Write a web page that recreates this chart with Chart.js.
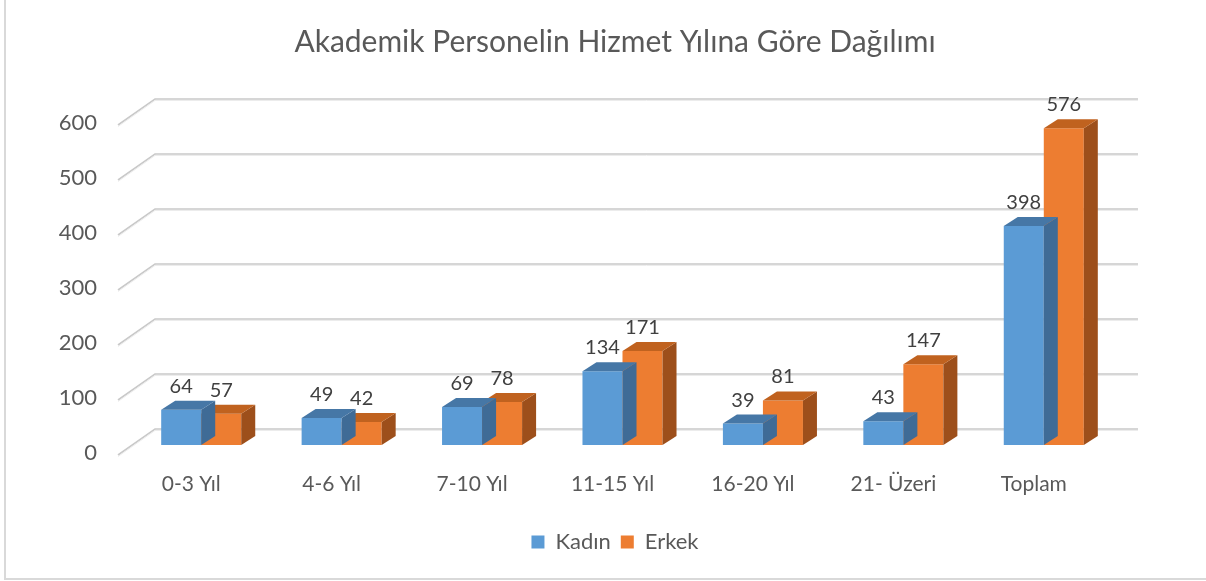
<!DOCTYPE html>
<html>
<head>
<meta charset="utf-8">
<script src="https://cdn.jsdelivr.net/npm/chart.js@4"></script>
<style>
  body { margin: 0; background: #fff; overflow: hidden; }
  #cerceve { position: absolute; left: 4px; top: -4px; width: 1300px; height: 582px;
             border-left: 2px solid #d9d9d9; border-bottom: 2px solid #d9d9d9; }
  #kutu { position: absolute; left: 0; top: 0; width: 1206px; height: 581px; }
</style>
</head>
<body>
<div id="cerceve"></div>
<div id="kutu"><canvas id="grafik"></canvas></div>
<script>
// Veriler
const kategoriler = ['0-3 Yıl', '4-6 Yıl', '7-10 Yıl', '11-15 Yıl', '16-20 Yıl', '21- Üzeri', 'Toplam'];
const kadin = [64, 49, 69, 134, 39, 43, 398];
const erkek = [57, 42, 78, 171, 81, 147, 576];
const eksenDegerleri = [0, 100, 200, 300, 400, 500, 600];

const yaziTipi = 'Lato, "Open Sans", sans-serif';

// 3B görünüm için renkler
const renkler = {
    0: { on: '#5b9bd5', ust: '#4677a6', yan: '#3f6b96' },
    1: { on: '#ed7d31', ust: '#c0621f', yan: '#9d4f1b' }
};
const derinlik = { dx: 14, dy: -9 };
const duvar = { arkaX: 24, arkaY: -16, onX: -13, onY: 10 };

// Arka duvar ve kılavuz çizgileri
const duvarEklentisi = {
    id: 'duvar',
    beforeDatasetsDraw(chart) {
        const ctx = chart.ctx;
        const alan = chart.chartArea;
        const y = chart.scales.y;
        ctx.save();
        eksenDegerleri.forEach(function(v) {
            const py = y.getPixelForValue(v);
            ctx.beginPath();
            ctx.moveTo(alan.left + duvar.onX, py + duvar.onY);
            ctx.lineTo(alan.left + duvar.arkaX, py + duvar.arkaY);
            ctx.lineTo(alan.right + duvar.arkaX, py + duvar.arkaY);
            ctx.strokeStyle = '#c9c9c9';
            ctx.lineWidth = 1.6;
            ctx.stroke();
            ctx.beginPath();
            ctx.moveTo(alan.left + duvar.onX, py + duvar.onY + 1.5);
            ctx.lineTo(alan.left + duvar.arkaX, py + duvar.arkaY + 1.5);
            ctx.lineTo(alan.right + duvar.arkaX, py + duvar.arkaY + 1.5);
            ctx.strokeStyle = '#ececec';
            ctx.lineWidth = 1;
            ctx.stroke();
        });
        ctx.restore();
    }
};

// Çubukların üst ve yan yüzleri
const kutuEklentisi = {
    id: 'kutu3b',
    afterDatasetDraw(chart, args) {
        const ctx = chart.ctx;
        const renk = renkler[args.index];
        ctx.save();
        args.meta.data.forEach(function(bar) {
            const sol = bar.x - bar.width / 2;
            const sag = bar.x + bar.width / 2;
            const ust = bar.y;
            const alt = bar.base;
            // yan yüz
            ctx.beginPath();
            ctx.moveTo(sag, ust);
            ctx.lineTo(sag + derinlik.dx, ust + derinlik.dy);
            ctx.lineTo(sag + derinlik.dx, alt + derinlik.dy);
            ctx.lineTo(sag, alt);
            ctx.closePath();
            ctx.fillStyle = renk.yan;
            ctx.fill();
            // üst yüz
            ctx.beginPath();
            ctx.moveTo(sol, ust);
            ctx.lineTo(sol + derinlik.dx, ust + derinlik.dy);
            ctx.lineTo(sag + derinlik.dx, ust + derinlik.dy);
            ctx.lineTo(sag, ust);
            ctx.closePath();
            ctx.fillStyle = renk.ust;
            ctx.fill();
        });
        ctx.restore();
    },
    afterDatasetsDraw(chart) {
        const ctx = chart.ctx;
        ctx.save();
        ctx.font = '20px ' + yaziTipi;
        ctx.fillStyle = '#404040';
        ctx.textAlign = 'center';
        ctx.textBaseline = 'alphabetic';
        chart.data.datasets.forEach(function(ds, i) {
            chart.getDatasetMeta(i).data.forEach(function(bar, j) {
                ctx.fillText(ds.data[j], bar.x, bar.y - 17);
            });
        });
        ctx.restore();
    }
};

const config = {
    type: 'bar',
    data: {
        labels: kategoriler,
        datasets: [
            { label: 'Kadın', data: kadin, backgroundColor: renkler[0].on },
            { label: 'Erkek', data: erkek, backgroundColor: renkler[1].on }
        ]
    },
    options: {
        responsive: true,
        maintainAspectRatio: false,
        animation: false,
        layout: { padding: { left: 24, right: 0, top: 0, bottom: 18 } },
        datasets: {
            bar: { barPercentage: 1, categoryPercentage: 0.57 }
        },
        plugins: {
            title: {
                display: true,
                text: 'Akademik Personelin Hizmet Yılına Göre Dağılımı',
                color: '#595959',
                font: { family: yaziTipi, size: 30, weight: 'normal' },
                padding: { top: 24, bottom: 55 }
            },
            legend: {
                position: 'bottom',
                labels: {
                    color: '#595959',
                    font: { family: yaziTipi, size: 22 },
                    boxWidth: 13,
                    boxHeight: 13,
                    padding: 10
                }
            },
            tooltip: { enabled: false }
        },
        scales: {
            x: {
                grid: { display: false, drawTicks: false },
                border: { display: false },
                ticks: {
                    color: '#595959',
                    font: { family: yaziTipi, size: 21 },
                    padding: 27,
                    labelOffset: -10,
                    maxRotation: 0
                },
                afterFit(scale) { scale.height = 76; }
            },
            y: {
                min: 0,
                max: 600,
                grid: { display: false, drawTicks: false },
                border: { display: false },
                ticks: {
                    stepSize: 100,
                    color: '#595959',
                    font: { family: yaziTipi, size: 22 },
                    padding: 34,
                    labelOffset: 8
                },
                afterFit(scale) { scale.width = 107; }
            },
            // sağ taraftaki boşluk için görünmez eksen
            y2: {
                position: 'right',
                min: 0,
                max: 600,
                grid: { display: false, drawTicks: false },
                border: { display: false },
                ticks: { display: false },
                afterFit(scale) { scale.width = 92; }
            }
        }
    },
    plugins: [duvarEklentisi, kutuEklentisi]
};

const ctx = document.getElementById('grafik').getContext('2d');
const grafik = new Chart(ctx, config);
</script>
</body>
</html>
